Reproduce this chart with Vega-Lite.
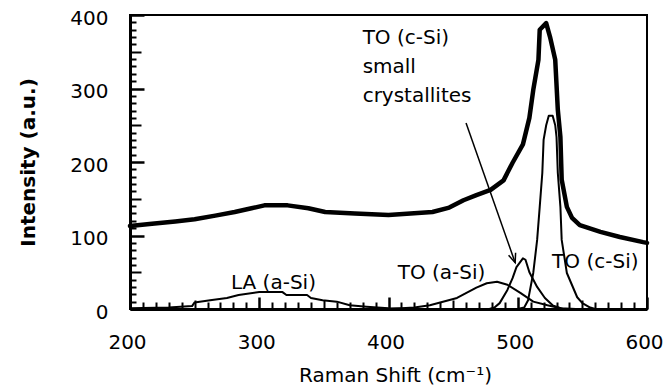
{
  "$schema": "https://vega.github.io/schema/vega-lite/v6.json",
  "width": 517,
  "height": 294,
  "autosize": {"type": "none"},
  "padding": {"left": 130, "top": 15, "right": 25, "bottom": 77},
  "background": "white",
  "config": {
    "view": {"stroke": "black", "strokeWidth": 2},
    "font": "DejaVu Sans",
    "axis": {
      "grid": false,
      "domainColor": "black",
      "tickColor": "black",
      "labelColor": "black",
      "titleColor": "black",
      "labelFont": "DejaVu Sans",
      "titleFont": "DejaVu Sans",
      "labelFontSize": 20,
      "titleFontWeight": "normal"
    }
  },
  "datasets": {
    "main": [
      {"shift": 200, "intensity": 113}, {"shift": 217, "intensity": 116}, {"shift": 235, "intensity": 119},
      {"shift": 250, "intensity": 122}, {"shift": 266, "intensity": 127}, {"shift": 281, "intensity": 132},
      {"shift": 294, "intensity": 137}, {"shift": 304, "intensity": 141}, {"shift": 322, "intensity": 141},
      {"shift": 338, "intensity": 137}, {"shift": 351, "intensity": 132}, {"shift": 374, "intensity": 130},
      {"shift": 400, "intensity": 128}, {"shift": 434, "intensity": 132}, {"shift": 447, "intensity": 138},
      {"shift": 458, "intensity": 148}, {"shift": 468, "intensity": 155}, {"shift": 479, "intensity": 162},
      {"shift": 489, "intensity": 175}, {"shift": 496, "intensity": 199}, {"shift": 504, "intensity": 224},
      {"shift": 509, "intensity": 260}, {"shift": 512, "intensity": 298}, {"shift": 516, "intensity": 339},
      {"shift": 517, "intensity": 380}, {"shift": 522, "intensity": 389}, {"shift": 525, "intensity": 370},
      {"shift": 529, "intensity": 339}, {"shift": 531, "intensity": 271}, {"shift": 533, "intensity": 234},
      {"shift": 534, "intensity": 176}, {"shift": 538, "intensity": 139}, {"shift": 542, "intensity": 124},
      {"shift": 548, "intensity": 114}, {"shift": 564, "intensity": 105}, {"shift": 579, "intensity": 98},
      {"shift": 597, "intensity": 91}, {"shift": 600, "intensity": 90}
    ],
    "comp": [
      {"series": "LA (a-Si)", "shift": 200, "intensity": 1}, {"series": "LA (a-Si)", "shift": 230, "intensity": 2},
      {"series": "LA (a-Si)", "shift": 248, "intensity": 4}, {"series": "LA (a-Si)", "shift": 250, "intensity": 9},
      {"series": "LA (a-Si)", "shift": 262, "intensity": 12}, {"series": "LA (a-Si)", "shift": 275, "intensity": 15},
      {"series": "LA (a-Si)", "shift": 284, "intensity": 19}, {"series": "LA (a-Si)", "shift": 300, "intensity": 23},
      {"series": "LA (a-Si)", "shift": 318, "intensity": 23}, {"series": "LA (a-Si)", "shift": 321, "intensity": 19},
      {"series": "LA (a-Si)", "shift": 337, "intensity": 19}, {"series": "LA (a-Si)", "shift": 340, "intensity": 15},
      {"series": "LA (a-Si)", "shift": 349, "intensity": 12}, {"series": "LA (a-Si)", "shift": 360, "intensity": 10},
      {"series": "LA (a-Si)", "shift": 370, "intensity": 5}, {"series": "LA (a-Si)", "shift": 383, "intensity": 3},
      {"series": "LA (a-Si)", "shift": 400, "intensity": 1}, {"series": "LA (a-Si)", "shift": 420, "intensity": 0},
      {"series": "TO (a-Si)", "shift": 400, "intensity": 0}, {"series": "TO (a-Si)", "shift": 420, "intensity": 2},
      {"series": "TO (a-Si)", "shift": 432, "intensity": 5}, {"series": "TO (a-Si)", "shift": 453, "intensity": 15},
      {"series": "TO (a-Si)", "shift": 468, "intensity": 29}, {"series": "TO (a-Si)", "shift": 476, "intensity": 35},
      {"series": "TO (a-Si)", "shift": 484, "intensity": 37}, {"series": "TO (a-Si)", "shift": 492, "intensity": 33},
      {"series": "TO (a-Si)", "shift": 502, "intensity": 22}, {"series": "TO (a-Si)", "shift": 512, "intensity": 10},
      {"series": "TO (a-Si)", "shift": 523, "intensity": 5}, {"series": "TO (a-Si)", "shift": 533, "intensity": 1},
      {"series": "TO (a-Si)", "shift": 545, "intensity": 0},
      {"series": "small", "shift": 478, "intensity": 0}, {"series": "small", "shift": 482, "intensity": 2},
      {"series": "small", "shift": 486, "intensity": 8}, {"series": "small", "shift": 492, "intensity": 26},
      {"series": "small", "shift": 496, "intensity": 42}, {"series": "small", "shift": 499, "intensity": 57},
      {"series": "small", "shift": 504, "intensity": 69}, {"series": "small", "shift": 506, "intensity": 67},
      {"series": "small", "shift": 509, "intensity": 50}, {"series": "small", "shift": 515, "intensity": 30},
      {"series": "small", "shift": 521, "intensity": 15}, {"series": "small", "shift": 527, "intensity": 5},
      {"series": "small", "shift": 535, "intensity": 0},
      {"series": "TO (c-Si)", "shift": 500, "intensity": 0}, {"series": "TO (c-Si)", "shift": 505, "intensity": 2},
      {"series": "TO (c-Si)", "shift": 508, "intensity": 12}, {"series": "TO (c-Si)", "shift": 512, "intensity": 49},
      {"series": "TO (c-Si)", "shift": 515, "intensity": 94}, {"series": "TO (c-Si)", "shift": 517, "intensity": 139},
      {"series": "TO (c-Si)", "shift": 519, "intensity": 185}, {"series": "TO (c-Si)", "shift": 520, "intensity": 230},
      {"series": "TO (c-Si)", "shift": 522, "intensity": 250}, {"series": "TO (c-Si)", "shift": 524, "intensity": 263},
      {"series": "TO (c-Si)", "shift": 527, "intensity": 263}, {"series": "TO (c-Si)", "shift": 529, "intensity": 250},
      {"series": "TO (c-Si)", "shift": 530, "intensity": 234}, {"series": "TO (c-Si)", "shift": 531, "intensity": 185},
      {"series": "TO (c-Si)", "shift": 533, "intensity": 139}, {"series": "TO (c-Si)", "shift": 534, "intensity": 94},
      {"series": "TO (c-Si)", "shift": 538, "intensity": 49}, {"series": "TO (c-Si)", "shift": 546, "intensity": 16},
      {"series": "TO (c-Si)", "shift": 550, "intensity": 8}, {"series": "TO (c-Si)", "shift": 556, "intensity": 2},
      {"series": "TO (c-Si)", "shift": 560, "intensity": 0}
    ],
    "notes": [
      {"label": "LA (a-Si)", "shift": 311, "intensity": 27},
      {"label": "TO (a-Si)", "shift": 441, "intensity": 41},
      {"label": "TO (c-Si)", "shift": 560, "intensity": 56}
    ],
    "note2": [
      {"label": "TO (c-Si)\nsmall\ncrystallites", "shift": 380, "intensity": 360}
    ],
    "arrow": [
      {"shift": 460, "intensity": 253, "shift2": 498, "intensity2": 63}
    ]
  },
  "layer": [
    {
      "data": {"name": "main"},
      "mark": {"type": "line", "color": "black", "strokeWidth": 4.5, "strokeCap": "round", "strokeJoin": "round"},
      "encoding": {
        "x": {
          "field": "shift", "type": "quantitative",
          "scale": {"domain": [200, 600], "nice": false, "zero": false},
          "axis": {
            "orient": "bottom", "values": [200, 300, 400, 500, 600], "ticks": false,
            "domain": true, "domainWidth": 3, "labelPadding": 23, "labelFlush": false,
            "labelOffset": -3, "title": "Raman Shift (cm⁻¹)", "titleFontSize": 20,
            "titleBaseline": "alphabetic", "titleX": 265, "titleY": 72
          }
        },
        "y": {
          "field": "intensity", "type": "quantitative",
          "scale": {"domain": [0, 400], "nice": false},
          "axis": {
            "orient": "left", "values": [0, 100, 200, 300, 400], "ticks": false,
            "domain": true, "domainWidth": 3, "labelPadding": 22, "labelOffset": 3,
            "title": "Intensity (a.u.)", "titleFontSize": 20, "titleFontWeight": "bold",
            "titleBaseline": "alphabetic", "titleX": -96, "titleY": 147
          }
        }
      }
    },
    {
      "data": {"name": "comp"},
      "mark": {"type": "line", "color": "black", "strokeWidth": 2, "strokeJoin": "round"},
      "encoding": {
        "detail": {"field": "series"},
        "x": {
          "field": "shift", "type": "quantitative",
          "scale": {"domain": [200, 600], "nice": false, "zero": false},
          "axis": {
            "orient": "top", "offset": -294, "domain": false, "labels": false, "title": null, "ticks": true,
            "values": [200, 210, 220, 230, 240, 250, 260, 270, 280, 290, 300, 310, 320, 330, 340, 350, 360, 370, 380, 390, 400, 410, 420, 430, 440, 450, 460, 470, 480, 490, 500, 510, 520, 530, 540, 550, 560, 570, 580, 590, 600],
            "tickSize": {"condition": [{"test": "datum.value % 100 === 0", "value": 12}, {"test": "datum.value % 50 === 0", "value": 9}], "value": 7},
            "tickWidth": {"condition": {"test": "datum.value % 100 === 0", "value": 2.5}, "value": 2}
          }
        },
        "y": {
          "field": "intensity", "type": "quantitative",
          "scale": {"domain": [0, 400], "nice": false},
          "axis": {
            "orient": "right", "offset": -517, "domain": false, "labels": false, "title": null, "ticks": true,
            "values": [0, 10, 20, 30, 40, 50, 60, 70, 80, 90, 100, 110, 120, 130, 140, 150, 160, 170, 180, 190, 200, 210, 220, 230, 240, 250, 260, 270, 280, 290, 300, 310, 320, 330, 340, 350, 360, 370, 380, 390, 400],
            "tickSize": {"condition": [{"test": "datum.value % 100 === 0", "value": 14}, {"test": "datum.value % 50 === 0", "value": 11}], "value": 6},
            "tickWidth": {"condition": {"test": "datum.value % 100 === 0", "value": 2.5}, "value": 2}
          }
        }
      }
    },
    {
      "data": {"name": "notes"},
      "mark": {"type": "text", "align": "center", "baseline": "alphabetic", "fontSize": 20, "font": "DejaVu Sans", "color": "black"},
      "encoding": {
        "text": {"field": "label"},
        "x": {"field": "shift", "type": "quantitative", "scale": {"domain": [200, 600], "nice": false, "zero": false}, "axis": null},
        "y": {"field": "intensity", "type": "quantitative", "scale": {"domain": [0, 400], "nice": false}, "axis": null}
      }
    },
    {
      "data": {"name": "arrow"},
      "mark": {"type": "rule", "color": "black", "strokeWidth": 1.5},
      "encoding": {
        "x": {"field": "shift", "type": "quantitative", "scale": {"domain": [200, 600], "nice": false, "zero": false}, "axis": null},
        "y": {"field": "intensity", "type": "quantitative", "scale": {"domain": [0, 400], "nice": false}, "axis": null},
        "x2": {"field": "shift2"},
        "y2": {"field": "intensity2"}
      }
    },
    {
      "data": {"name": "arrow"},
      "mark": {"type": "point", "shape": "M-0.4,1L0,0L0.4,1", "filled": false, "stroke": "black", "strokeWidth": 1.5, "size": 345, "angle": 160.7, "opacity": 1},
      "encoding": {
        "x": {"field": "shift2", "type": "quantitative", "scale": {"domain": [200, 600], "nice": false, "zero": false}, "axis": null},
        "y": {"field": "intensity2", "type": "quantitative", "scale": {"domain": [0, 400], "nice": false}, "axis": null}
      }
    },
    {
      "data": {"name": "note2"},
      "mark": {"type": "text", "align": "left", "baseline": "alphabetic", "fontSize": 20, "font": "DejaVu Sans", "color": "black", "lineBreak": "\n", "lineHeight": 29},
      "encoding": {
        "text": {"field": "label"},
        "x": {"field": "shift", "type": "quantitative", "scale": {"domain": [200, 600], "nice": false, "zero": false}, "axis": null},
        "y": {"field": "intensity", "type": "quantitative", "scale": {"domain": [0, 400], "nice": false}, "axis": null}
      }
    }
  ],
  "resolve": {"axis": {"x": "independent", "y": "independent"}}
}
